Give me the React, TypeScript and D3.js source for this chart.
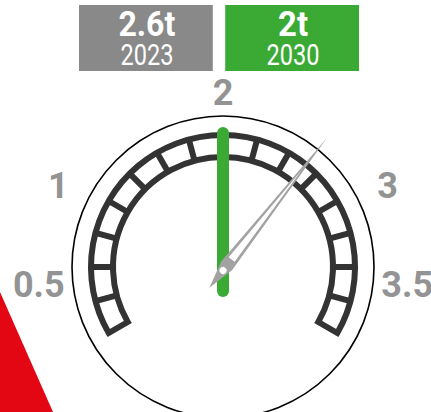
import React, { useEffect, useRef } from "react";
import * as d3 from "d3";

// gauge scale labels
const scaleTicks = [0.5, 1, 2, 3, 3.5];
// header boxes: value per year
const years = ["2023", "2030"];
const values = [2.6, 2];
const valueLabels = ["2.6t", "2t"];
const boxColors = ["#898989", "#3aaa35"];
const segments = 16;

const App = () => {
  const ref = useRef<HTMLDivElement>(null);

  useEffect(() => {
    drawChart();
  }, []);

  const drawChart = () => {
    const width = 431,
      height = 412;
    const cx = 223,
      cy = 267;

    const svg = d3
      .select(ref.current)
      .html("")
      .append("svg")
      .attr("width", width)
      .attr("height", height)
      .style("position", "absolute")
      .style("left", 0)
      .style("top", 0)
      .style("font-family", "Roboto, 'Liberation Sans', sans-serif");

    // red corner
    svg
      .append("path")
      .attr("d", `M0,292L53,${height}L0,${height}Z`)
      .attr("fill", "#e30613");

    // value -> angle (degrees, 0 = up)
    const angle = d3.scaleLinear().domain([2, 3]).range([0, 63.5]);

    // header boxes
    const box = d3.scaleBand().domain(years).range([79, 359]).paddingInner(0.085);
    const widths = { "2.6t": 57, "2t": 30 };
    const g = svg
      .selectAll("g.box")
      .data(years)
      .join("g")
      .attr("class", "box")
      .attr("transform", (d) => `translate(${box(d)},5)`);
    g.append("rect")
      .attr("width", box.bandwidth())
      .attr("height", 66)
      .attr("fill", (d, i) => boxColors[i]);
    g.append("text")
      .text((d, i) => valueLabels[i])
      .attr("x", box.bandwidth() / 2 + 1)
      .attr("y", 31)
      .attr("text-anchor", "middle")
      .attr("fill", "#fff")
      .attr("font-weight", "bold")
      .attr("font-size", 35)
      .attr("textLength", (d, i) => widths[valueLabels[i]])
      .attr("lengthAdjust", "spacingAndGlyphs");
    g.append("text")
      .text((d) => d)
      .attr("x", box.bandwidth() / 2 + 1)
      .attr("y", 60)
      .attr("text-anchor", "middle")
      .attr("fill", "#fff")
      .attr("font-size", 30)
      .attr("textLength", 53)
      .attr("lengthAdjust", "spacingAndGlyphs");

    const gauge = svg.append("g").attr("transform", `translate(${cx},${cy})`);

    gauge
      .append("circle")
      .attr("r", 151)
      .attr("fill", "none")
      .attr("stroke", "#000")
      .attr("stroke-width", 1.6);

    const rad = (a) => (a * Math.PI) / 180;
    const arc = d3
      .arc()
      .innerRadius(110)
      .outerRadius(132)
      .startAngle(rad(-120))
      .endAngle(rad(120));
    gauge
      .append("path")
      .attr("d", arc({}))
      .attr("fill", "none")
      .attr("stroke", "#333")
      .attr("stroke-width", 6);

    const step = 240 / segments;
    gauge
      .selectAll("line.div")
      .data(d3.range(1, segments).map((i) => -120 + i * step))
      .join("line")
      .attr("class", "div")
      .attr("x1", (a) => 110 * Math.sin(rad(a)))
      .attr("y1", (a) => -110 * Math.cos(rad(a)))
      .attr("x2", (a) => 132 * Math.sin(rad(a)))
      .attr("y2", (a) => -132 * Math.cos(rad(a)))
      .attr("stroke", "#333")
      .attr("stroke-width", 6);

    // scale labels
    gauge
      .selectAll("text.tick")
      .data(scaleTicks)
      .join("text")
      .attr("class", "tick")
      .text((d) => d3.format("")(d))
      .attr("x", (d) => {
        const a = rad(angle(d));
        return (175 + 10 * Math.abs(Math.sin(a))) * Math.sin(a);
      })
      .attr("y", (d) => {
        const a = rad(angle(d));
        return -(175 + 10 * Math.abs(Math.sin(a))) * Math.cos(a);
      })
      .attr("dy", "0.36em")
      .attr("text-anchor", "middle")
      .attr("fill", "#939393")
      .attr("font-weight", "bold")
      .attr("font-size", 36);

    // target needle (2030)
    gauge
      .append("line")
      .attr("transform", `rotate(${angle(values[1])})`)
      .attr("x1", 0)
      .attr("y1", -134)
      .attr("x2", 0)
      .attr("y2", 24)
      .attr("stroke", boxColors[1])
      .attr("stroke-width", 12)
      .attr("stroke-linecap", "round");

    // current needle (2023)
    const needle = gauge
      .append("g")
      .attr("transform", `translate(0,3.5) rotate(${angle(values[0])})`);
    needle
      .append("path")
      .attr("d", "M0,-168L7,-6L0,22L-7,-6Z")
      .attr("fill", "#a2a2a2");
    needle
      .append("path")
      .attr("d", "M0,-128L3.8,-14L-3.8,-14Z")
      .attr("fill", "#fff");
    needle.append("circle").attr("r", 3.5).attr("fill", "#fff");
  };

  return <div ref={ref}></div>;
};

export default App;
